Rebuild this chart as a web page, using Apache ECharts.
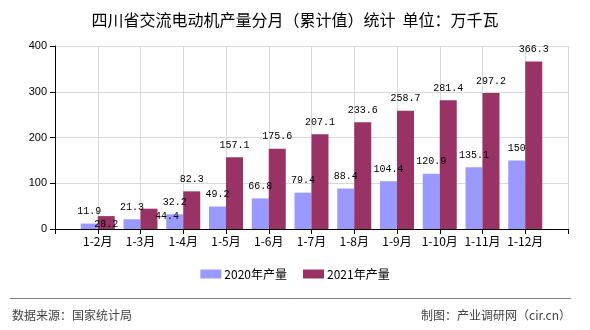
<!DOCTYPE html>
<html>
<head>
<meta charset="utf-8">
<script src="https://cdn.jsdelivr.net/npm/echarts@6/dist/echarts.min.js"></script>
<style>
html,body{margin:0;padding:0;background:#fff;}
#c{width:590px;height:330px;}
</style>
</head>
<body>
<div id="c"></div>
<script>
var titleText = '四川省交流电动机产量分月（累计值）统计  单位：万千瓦';
var categories = ['1-2月','1-3月','1-4月','1-5月','1-6月','1-7月','1-8月','1-9月','1-10月','1-11月','1-12月'];
var seriesNames = ['2020年产量','2021年产量'];
var values2020 = [11.9, 21.3, 32.2, 49.2, 66.8, 79.4, 88.4, 104.4, 120.9, 135.1, 150];
var values2021 = [28.2, 44.4, 82.3, 157.1, 175.6, 207.1, 233.6, 258.7, 281.4, 297.2, 366.3];
var yTicks = [0, 100, 200, 300, 400];
var sourceText = '数据来源：国家统计局';
var makerText = '制图：产业调研网（cir.cn）';

// padded category axis: one empty slot at each end
var cats = [''].concat(categories, ['']);
function pad(arr){ return [null].concat(arr, [null]); }

var chart = echarts.init(document.getElementById('c'), null, {renderer: 'canvas'});
var labelFont = { fontFamily: 'Liberation Mono', fontSize: 10, color: '#000' };
chart.setOption({
  animation: false,
  backgroundColor: '#fff',
  title: {
    text: titleText, left: 'center', top: 7,
    textStyle: { fontFamily: 'Noto Sans CJK SC', fontSize: 16, fontWeight: 'normal', color: '#000' }
  },
  legend: {
    data: seriesNames, bottom: 45, left: 'center',
    itemWidth: 21, itemHeight: 9, itemGap: 16,
    icon: 'rect',
    textStyle: { fontFamily: 'Noto Sans CJK SC', fontSize: 12, color: '#000', padding: [0,0,0,-2] }
  },
  grid: { left: 55, right: 22, top: 46, bottom: 101, containLabel: false },
  xAxis: {
    type: 'category', data: cats, boundaryGap: false,
    axisLine: { lineStyle: { color: '#000', width: 1 } },
    axisTick: { show: true, length: 5, lineStyle: { color: '#000' } },
    axisLabel: { interval: 0, margin: 6, fontFamily: 'Noto Sans CJK SC', fontSize: 12, color: '#000' },
    splitLine: { show: true, lineStyle: { color: '#d9d9d9', width: 1 } }
  },
  yAxis: {
    type: 'value', min: yTicks[0], max: yTicks[yTicks.length-1], interval: yTicks[1]-yTicks[0],
    axisLine: { show: true, lineStyle: { color: '#000', width: 1 } },
    axisTick: { show: true, length: 5, lineStyle: { color: '#000' } },
    axisLabel: { margin: 8, fontFamily: 'Liberation Sans', fontSize: 11, color: '#000' },
    splitLine: { show: true, lineStyle: { color: '#d9d9d9', width: 1 } }
  },
  series: [
    {
      name: seriesNames[0], type: 'bar', data: pad(values2020),
      barWidth: 17, barGap: '0%',
      itemStyle: { color: '#9999ff' },
      label: Object.assign({ show: true, position: 'top', distance: 7 }, labelFont)
    },
    {
      name: seriesNames[1], type: 'bar', data: pad(values2021),
      barWidth: 17, barGap: '0%',
      itemStyle: { color: '#993366' },
      label: Object.assign({ show: true, position: 'top', distance: 7 }, labelFont),
      labelLayout: function(p){
        if (p.dataIndex === 1) return { dy: 20 };
        if (p.dataIndex === 2) return { dx: 18, dy: 20 };
        return {};
      }
    }
  ],
  graphic: [
    { type: 'line', shape: { x1: 10, y1: 298.5, x2: 571, y2: 298.5 }, style: { stroke: '#808080', lineWidth: 1 } },
    { type: 'text', left: 12, top: 309, style: { text: sourceText, font: '12px "Noto Sans CJK SC"', fill: '#444' } },
    { type: 'text', right: 19, top: 309, style: { text: makerText, font: '12px "Noto Sans CJK SC"', fill: '#444' } }
  ]
});
</script>
</body>
</html>
